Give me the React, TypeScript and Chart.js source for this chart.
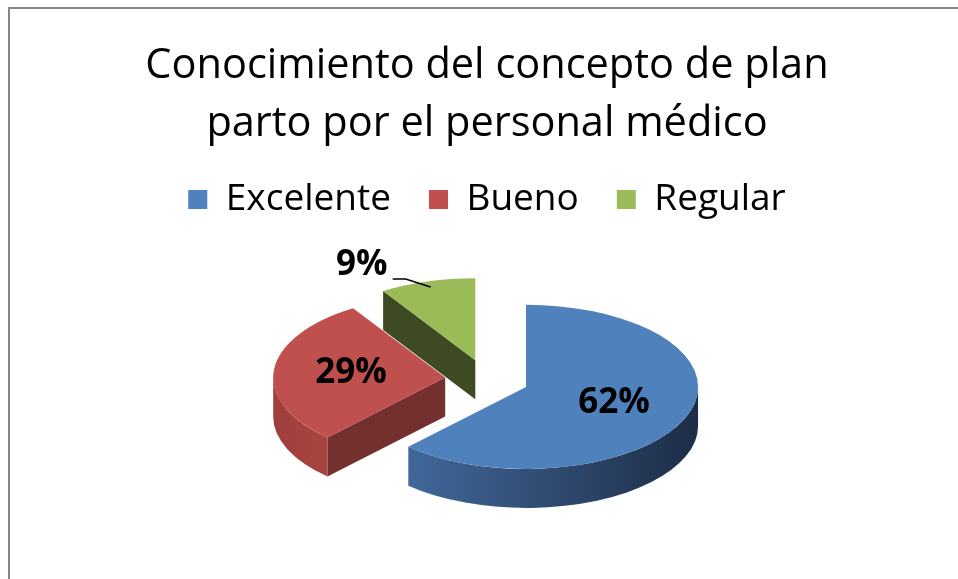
import React, { useEffect, useRef } from 'react';
import { Chart, registerables } from 'chart.js';

Chart.register(...registerables);

// ---- data ----
const categories = ['Excelente', 'Bueno', 'Regular'];
const values = [62, 29, 9];
const titleLines = ['Conocimiento del concepto de plan', 'parto por el personal médico'];

// ---- styles ----
const topColors = ['#4F81BD', '#C0504D', '#9BBB59'];
const wallLight = ['#41689A', '#9E3F3C', '#5A6E33'];
const wallDark = ['#1D2D46', '#A8443F', '#3D4A22'];
const cutColors = ['#2A4266', '#74302E', '#3D4A22'];

const FONT = "'Open Sans', 'DejaVu Sans', sans-serif";
const TILT = 0.477;
const DEPTH = 39;
const EXPLODE = 42;
const RADIUS = 172;
const LABEL_FRAC = 0.55;
const OUTSIDE_LIMIT = 0.15;
const LEADER_ANCHOR = 0.93;

const framePlugin = {
  id: 'frame',
  beforeDraw(chart: any) {
    const ctx = chart.ctx;
    ctx.save();
    ctx.fillStyle = '#878787';
    ctx.fillRect(8, 7, 2, chart.height);
    ctx.fillRect(8, 7, chart.width, 2);
    ctx.restore();
  },
};

const midOf = (el: any) => (el.startAngle + el.endAngle) / 2;

const pie3dPlugin = {
  id: 'pie3d',
  beforeDatasetsDraw(chart: any) {
    const ctx = chart.ctx;
    const area = chart.chartArea;
    const cy = (area.top + area.bottom) / 2;
    const els = chart.getDatasetMeta(0).data as any[];
    els.forEach((el) => {
      const m = midOf(el);
      el.x += Math.cos(m) * EXPLODE;
      el.y += Math.sin(m) * EXPLODE;
    });
    const D = DEPTH / TILT;
    ctx.save();
    ctx.translate(0, cy);
    ctx.scale(1, TILT);
    ctx.translate(0, -cy);
    const order = els.map((_, i) => i).sort((a, b) => Math.sin(midOf(els[a])) - Math.sin(midOf(els[b])));
    order.forEach((i) => {
      const el = els[i];
      const { x, y, startAngle: s, endAngle: e, outerRadius: r } = el;
      const face = (a: number) => {
        ctx.beginPath();
        ctx.moveTo(x, y);
        ctx.lineTo(x + r * Math.cos(a), y + r * Math.sin(a));
        ctx.lineTo(x + r * Math.cos(a), y + r * Math.sin(a) + D);
        ctx.lineTo(x, y + D);
        ctx.closePath();
        ctx.fillStyle = cutColors[i];
        ctx.fill();
      };
      if (Math.cos(s) < -1e-6) face(s);
      if (Math.cos(e) > 1e-6) face(e);
      const a0 = Math.max(s, 0);
      const a1 = Math.min(e, Math.PI);
      if (a1 > a0) {
        ctx.beginPath();
        ctx.arc(x, y, r, a0, a1);
        ctx.arc(x, y + D, r, a1, a0, true);
        ctx.closePath();
        const xl = x + r * Math.cos(a1);
        const xr = Math.max(x + r * Math.cos(a0), xl + 1);
        const g = ctx.createLinearGradient(xl, 0, xr, 0);
        g.addColorStop(0, wallLight[i]);
        g.addColorStop(1, wallDark[i]);
        ctx.fillStyle = g;
        ctx.fill();
      }
    });
  },
  afterDatasetsDraw(chart: any) {
    const ctx = chart.ctx;
    ctx.restore();
    const area = chart.chartArea;
    const cy = (area.top + area.bottom) / 2;
    const sq = (v: number) => cy + (v - cy) * TILT;
    const els = chart.getDatasetMeta(0).data as any[];
    const total = values.reduce((a, b) => a + b, 0);
    ctx.save();
    ctx.fillStyle = '#000';
    ctx.strokeStyle = '#000';
    ctx.font = `bold 35px ${FONT}`;
    els.forEach((el, i) => {
      const m = midOf(el);
      const frac = values[i] / total;
      const txt = Math.round(frac * 100) + '%';
      const r = el.outerRadius;
      if (frac >= OUTSIDE_LIMIT) {
        ctx.textAlign = 'center';
        ctx.textBaseline = 'middle';
        ctx.fillText(txt, el.x + Math.cos(m) * r * LABEL_FRAC, sq(el.y + Math.sin(m) * r * LABEL_FRAC));
      } else {
        const ax = el.x + Math.cos(m) * r * LEADER_ANCHOR;
        const ay = sq(el.y + Math.sin(m) * r * LEADER_ANCHOR);
        const dir = Math.cos(m) < 0 ? -1 : 1;
        const ex = ax + dir * 25;
        const ey = ay - 8;
        const hx = ex + dir * 13;
        ctx.lineWidth = 1.5;
        ctx.beginPath();
        ctx.moveTo(ax, ay);
        ctx.lineTo(ex, ey);
        ctx.lineTo(hx, ey);
        ctx.stroke();
        ctx.textAlign = dir < 0 ? 'right' : 'left';
        ctx.textBaseline = 'alphabetic';
        ctx.fillText(txt, hx + dir * 5, ey - 4);
      }
    });
    ctx.restore();
    els.forEach((el) => {
      const m = midOf(el);
      el.x -= Math.cos(m) * EXPLODE;
      el.y -= Math.sin(m) * EXPLODE;
    });
  },
};

export default function App() {
  const ref = useRef<HTMLCanvasElement | null>(null);
  useEffect(() => {
    if (!ref.current) return;
    const chart = new Chart(ref.current, {
      type: 'pie',
      data: {
        labels: categories,
        datasets: [
          {
            data: values,
            backgroundColor: topColors,
            borderWidth: 0,
            radius: RADIUS,
            clip: false,
          } as any,
        ],
      },
      options: {
        responsive: false,
        animation: false,
        events: [],
        layout: { padding: { left: 16, right: 0, top: 0, bottom: 48 } },
        plugins: {
          title: {
            display: true,
            text: titleLines,
            color: '#000',
            font: { family: FONT, size: 41.5, weight: 'normal', lineHeight: 58 / 41.5 },
            padding: { top: 37, bottom: -10 },
          },
          legend: {
            display: true,
            position: 'top',
            labels: {
              color: '#000',
              boxWidth: 19,
              boxHeight: 19,
              padding: 38,
              font: { family: FONT, size: 37 },
            },
          },
          tooltip: { enabled: false },
        },
      } as any,
      plugins: [framePlugin, pie3dPlugin],
    });
    return () => chart.destroy();
  }, []);
  return (
    <div style={{ position: 'fixed', left: 0, top: 0, width: 958, height: 579, background: '#fff' }}>
      <canvas ref={ref} width={958} height={579} style={{ display: 'block' }} />
    </div>
  );
}
